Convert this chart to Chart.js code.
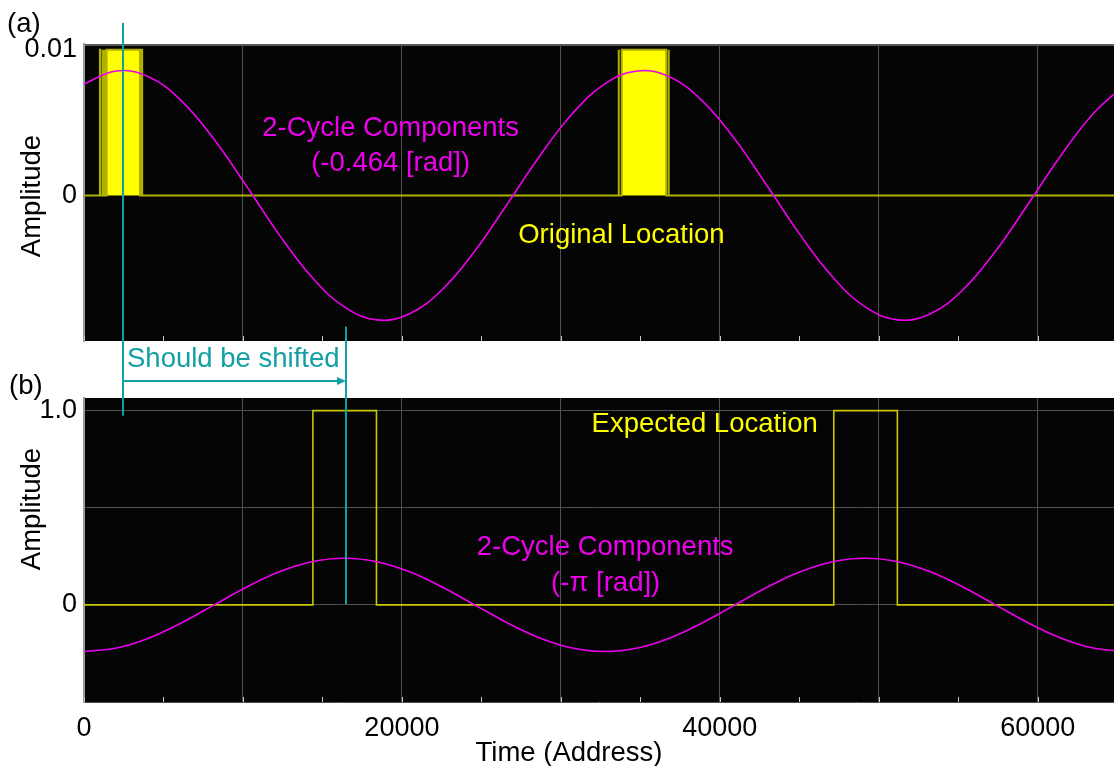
<!DOCTYPE html>
<html>
<head>
<meta charset="utf-8">
<script src="https://cdn.jsdelivr.net/npm/chart.js@4.4.1/dist/chart.umd.min.js"></script>
<style>
  html, body { margin: 0; padding: 0; background: #fff; overflow: hidden; }
  #page { position: relative; width: 1114px; height: 766px; font-family: "Liberation Sans", Arial, sans-serif; }
  canvas { position: absolute; left: 0; }
  #topChart { top: 0; }
  #bottomChart { top: 345px; }
  #overlay { top: 0; pointer-events: none; }
  .txt { position: absolute; font-size: 27.5px; line-height: 27px; white-space: nowrap; color: #000; }
  .rot { transform: translate(-50%, -50%) rotate(-90deg); }
</style>
</head>
<body>
<div id="page">
  <canvas id="topChart" width="1114" height="345"></canvas>
  <canvas id="bottomChart" width="1114" height="421"></canvas>
  <canvas id="overlay" width="1114" height="766"></canvas>
  <div class="txt" style="left:7px;top:9px">(a)</div>
  <div class="txt" style="left:9px;top:371px">(b)</div>
  <div class="txt rot" style="left:30px;top:196px">Amplitude</div>
  <div class="txt rot" style="left:30px;top:509px">Amplitude</div>
  <div class="txt" style="left:569px;top:738px;transform:translateX(-50%)">Time (Address)</div>
  <div class="txt" style="left:127px;top:344px;color:#12a0a4">Should be shifted</div>
</div>
<script>
// Data
const xMax = 64800;   // right edge of the visible plot
const xTicks = [0, 5000, 10000, 15000, 20000, 25000, 30000, 35000, 40000, 45000, 50000, 55000, 60000];
const topTicks = [0, 0.01];
const bottomTicks = [-0.5, 0, 0.5, 1.0];

const waveX = [0, 2048, 4096, 6144, 8192, 10240, 12288, 14336, 16384, 18432, 20480,
    22528, 24576, 26624, 28672, 30720, 32768, 34816, 36864, 38912, 40960, 43008,
    45056, 47104, 49152, 51200, 53248, 55296, 57344, 59392, 61440, 63488, 65536];
// 2-cycle component, -0.464 rad
const topWave = [0.00766, 0.00855, 0.00813, 0.00648, 0.00384, 0.00061, -0.00271, -0.00561,
    -0.00766, -0.00855, -0.00813, -0.00648, -0.00384, -0.00061, 0.00271, 0.00561,
    0.00766, 0.00855, 0.00813, 0.00648, 0.00384, 0.00061, -0.00271, -0.00561,
    -0.00766, -0.00855, -0.00813, -0.00648, -0.00384, -0.00061, 0.00271, 0.00561, 0.00766];
// 2-cycle component, -pi rad
const bottomWave = [-0.24, -0.222, -0.17, -0.092, 0, 0.092, 0.17, 0.222,
    0.24, 0.222, 0.17, 0.092, 0, -0.092, -0.17, -0.222,
    -0.24, -0.222, -0.17, -0.092, 0, 0.092, 0.17, 0.222,
    0.24, 0.222, 0.17, 0.092, 0, -0.092, -0.17, -0.222, -0.24];

// original locations (a) and expected locations (b)
const originalStart = [1000, 1160, 1280, 1420, 3640, 33630, 33830, 36770];
const originalEnd   = [1020, 1180, 1300, 3520, 3660, 33650, 36630, 36790];
const originalLevel = 0.01;
const expectedStart = [14400, 47170];
const expectedEnd   = [18400, 51170];
const expectedLevel = 1.0;

// the shift annotation
const shiftFrom = 2440;
const shiftTo = 16480;

const MAGENTA = '#ee00ee';
const CYAN = '#12a0a4';
const FONT = {family: '"Liberation Sans", Arial, sans-serif', size: 27};

function wavePoints(values) {
    return waveX.map((x, i) => ({x: x, y: values[i]}));
}

function pulseTrain(starts, ends, level) {
    const pts = [{x: 0, y: 0}];
    starts.forEach((s, i) => {
        pts.push({x: s, y: 0}, {x: s, y: level}, {x: ends[i], y: level}, {x: ends[i], y: 0});
    });
    pts.push({x: waveX[waveX.length - 1], y: 0});
    return pts;
}

// black plot area, optional top rule, short ticks inside the bottom edge
const plotFrame = {
    id: 'plotFrame',
    beforeDraw(chart) {
        const {ctx, chartArea: a} = chart;
        ctx.save();
        ctx.fillStyle = '#050505';
        ctx.fillRect(a.left, a.top, a.right - a.left, a.bottom - a.top);
        if (chart.canvas.id === 'topChart') {
            ctx.strokeStyle = '#5a5a5a';
            ctx.lineWidth = 2;
            ctx.beginPath();
            ctx.moveTo(a.left, a.top + 1);
            ctx.lineTo(a.right, a.top + 1);
            ctx.stroke();
        }
        ctx.restore();
    },
    afterDraw(chart) {
        const {ctx, chartArea: a, scales: {x}} = chart;
        ctx.save();
        ctx.strokeStyle = '#c8c8c8';
        ctx.lineWidth = 1;
        x.ticks.forEach(t => {
            const px = Math.round(x.getPixelForValue(t.value)) + 0.5;
            ctx.beginPath();
            ctx.moveTo(px, a.bottom);
            ctx.lineTo(px, a.bottom - 5);
            ctx.stroke();
        });
        ctx.restore();
    }
};

// labels inside the plot, placed in data coordinates
function makeNotes(list) {
    return {
        id: 'notes',
        afterDatasetsDraw(chart) {
            const {ctx, scales: {x, y}} = chart;
            ctx.save();
            ctx.font = '27.5px ' + FONT.family;
            ctx.textAlign = 'center';
            ctx.textBaseline = 'alphabetic';
            list.forEach(n => {
                ctx.fillStyle = n.color;
                ctx.fillText(n.text, x.getPixelForValue(n.x), y.getPixelForValue(n.y));
            });
            ctx.restore();
        }
    };
}

const topNotes = [
    {text: '2-Cycle Components', x: 19290, y: 0.00405, color: MAGENTA},
    {text: '(-0.464 [rad])', x: 19290, y: 0.00165, color: MAGENTA},
    {text: 'Original Location', x: 33810, y: -0.00327, color: '#ffff00'}
];
const bottomNotes = [
    {text: 'Expected Location', x: 39050, y: 0.892, color: '#ffff00'},
    {text: '2-Cycle Components', x: 32790, y: 0.256, color: MAGENTA},
    {text: '(-\u03c0 [rad])', x: 32820, y: 0.071, color: MAGENTA}
];

function xAxis(showLabels) {
    return {
        type: 'linear',
        min: 0,
        max: xMax,
        afterBuildTicks: ax => { ax.ticks = xTicks.map(v => ({value: v})); },
        grid: {
            color: c => c.tick.value === 0 ? '#9a9a9a' : (c.tick.value % 10000 === 0 ? '#505050' : 'rgba(0,0,0,0)'),
            lineWidth: 1,
            drawTicks: false
        },
        border: {display: false},
        ticks: {
            display: showLabels,
            autoSkip: false,
            maxRotation: 0,
            padding: 10,
            color: '#000',
            font: FONT,
            callback: v => v % 20000 === 0 ? String(v) : ''
        },
        afterFit: ax => { ax.height = showLabels ? 64 : 0; }
    };
}

function yAxis(min, max, ticks, showGrid, label) {
    return {
        min: min,
        max: max,
        afterBuildTicks: ax => { ax.ticks = ticks.map(v => ({value: v})); },
        grid: {display: showGrid, color: '#505050', lineWidth: 1, drawTicks: false},
        border: {display: true, color: '#9a9a9a', width: 2},
        ticks: {padding: 7, color: '#000', font: FONT, callback: label},
        afterFit: ax => {
            ax.width = 84;
            ax.paddingTop = 0;
            ax.paddingBottom = 0;
        }
    };
}

function commonOptions(padding, showXLabels, yScale) {
    return {
        responsive: false,
        devicePixelRatio: 1,
        animation: false,
        layout: {padding: padding},
        plugins: {legend: {display: false}, tooltip: {enabled: false}},
        elements: {point: {radius: 0}},
        scales: {x: xAxis(showXLabels), y: yScale}
    };
}

const topChart = new Chart(document.getElementById('topChart'), {
    type: 'line',
    data: {
        datasets: [{
            data: wavePoints(topWave),
            borderColor: MAGENTA,
            borderWidth: 1.6,
            tension: 0.4,
            fill: false
        }, {
            data: pulseTrain(originalStart, originalEnd, originalLevel),
            borderColor: '#b0b000',
            backgroundColor: '#ffff00',
            borderWidth: 2,
            tension: 0,
            fill: 'origin'
        }]
    },
    options: commonOptions({top: 44, bottom: 4, left: 0, right: 0}, false,
        yAxis(-0.01, 0.0104, topTicks, false, v => v === 0 ? '0' : String(v))),
    plugins: [plotFrame, makeNotes(topNotes)]
});

const bottomChart = new Chart(document.getElementById('bottomChart'), {
    type: 'line',
    data: {
        datasets: [{
            data: wavePoints(bottomWave),
            borderColor: MAGENTA,
            borderWidth: 1.6,
            tension: 0.4,
            fill: false
        }, {
            data: pulseTrain(expectedStart, expectedEnd, expectedLevel),
            borderColor: '#c8c800',
            borderWidth: 1.6,
            tension: 0,
            fill: false
        }]
    },
    options: commonOptions({top: 53, bottom: 0, left: 0, right: 0}, true,
        yAxis(-0.5, 1.065, bottomTicks, true, v => v === 0 ? '0' : (v === 1 ? '1.0' : ''))),
    plugins: [plotFrame, makeNotes(bottomNotes)]
});

// "Should be shifted" marker drawn across both panels
function drawShift() {
    const ctx = document.getElementById('overlay').getContext('2d');
    const offset = 345;
    const x1 = Math.round(topChart.scales.x.getPixelForValue(shiftFrom));
    const x2 = Math.round(bottomChart.scales.x.getPixelForValue(shiftTo));
    const arrowY = 381;
    ctx.strokeStyle = CYAN;
    ctx.fillStyle = CYAN;
    ctx.lineWidth = 2;
    ctx.beginPath();
    ctx.moveTo(x1, topChart.chartArea.top - 21);
    ctx.lineTo(x1, offset + bottomChart.scales.y.getPixelForValue(1) + 5);
    ctx.moveTo(x2, topChart.scales.y.getPixelForValue(-0.009));
    ctx.lineTo(x2, offset + bottomChart.scales.y.getPixelForValue(0) - 1);
    ctx.moveTo(x1, arrowY);
    ctx.lineTo(x2 - 6, arrowY);
    ctx.stroke();
    ctx.beginPath();
    ctx.moveTo(x2, arrowY);
    ctx.lineTo(x2 - 9, arrowY - 4);
    ctx.lineTo(x2 - 9, arrowY + 4);
    ctx.closePath();
    ctx.fill();
}
drawShift();
</script>
</body>
</html>
